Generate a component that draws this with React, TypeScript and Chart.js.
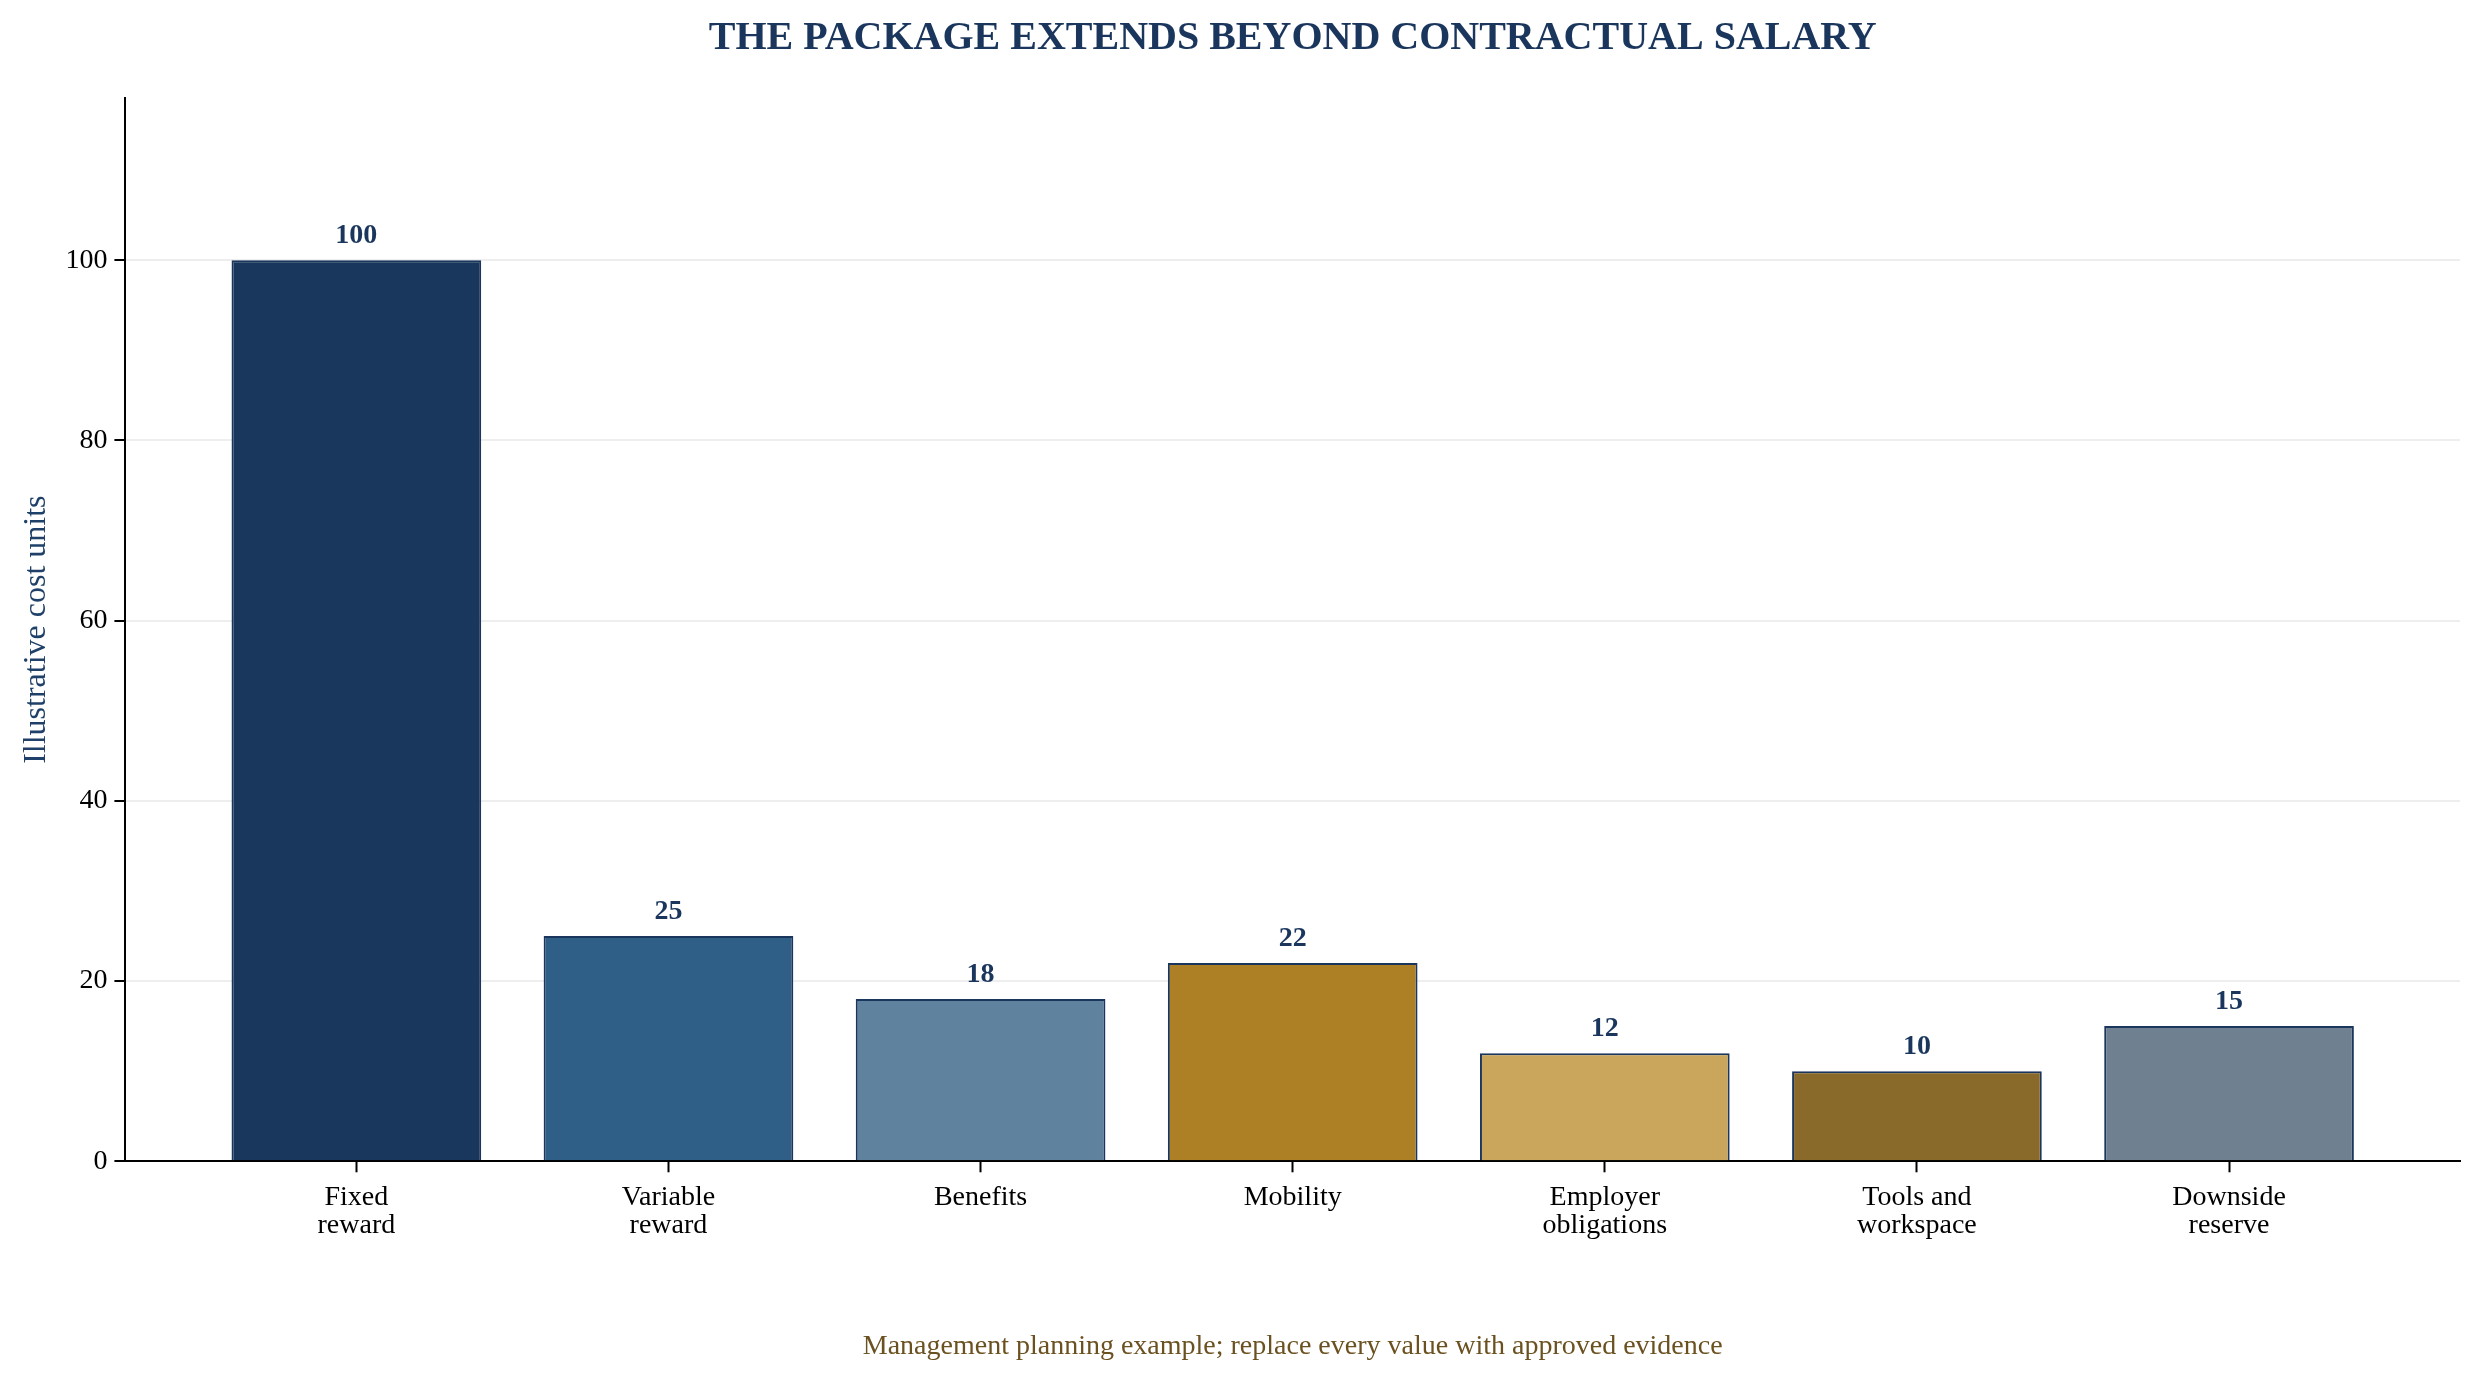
import React, { useRef, useEffect } from 'react';
import { Chart, registerables } from 'chart.js';

Chart.register(...registerables);

// Data
const categories = [
  'Fixed\nreward',
  'Variable\nreward',
  'Benefits',
  'Mobility',
  'Employer\nobligations',
  'Tools and\nworkspace',
  'Downside\nreserve',
];
const costUnits = [100, 25, 18, 22, 12, 10, 15];
const yTicks = [0, 20, 40, 60, 80, 100];

const barColors = ['#19365c', '#2f5f87', '#5f829e', '#ae8026', '#caa65c', '#8a6a2b', '#6f8090'];
const navy = '#1b365d';
const serif = '"Liberation Serif", "Times New Roman", serif';

const valueLabels = {
  id: 'valueLabels',
  afterDatasetsDraw(chart: Chart) {
    const { ctx } = chart;
    const meta = chart.getDatasetMeta(0);
    ctx.save();
    ctx.font = `bold 28px ${serif}`;
    ctx.fillStyle = navy;
    ctx.textAlign = 'center';
    ctx.textBaseline = 'alphabetic';
    meta.data.forEach((bar: any, i: number) => {
      ctx.fillText(String(costUnits[i]), bar.x, bar.y - 17);
    });
    ctx.restore();
  },
};

const App: React.FC = () => {
  const canvasRef = useRef<HTMLCanvasElement>(null);
  const chartRef = useRef<Chart | null>(null);

  useEffect(() => {
    if (!canvasRef.current) return;
    if (chartRef.current) chartRef.current.destroy();

    Chart.defaults.font.family = serif;
    Chart.defaults.color = '#000';

    chartRef.current = new Chart(canvasRef.current, {
      type: 'bar',
      data: {
        datasets: [
          {
            data: costUnits.map((v, i) => ({ x: i, y: v })),
            backgroundColor: barColors,
            borderColor: navy,
            borderWidth: 2,
            barPercentage: 0.8,
            categoryPercentage: 1,
          },
        ],
      },
      options: {
        responsive: true,
        maintainAspectRatio: false,
        animation: false,
        devicePixelRatio: 1,
        layout: { padding: { left: 13, right: 21, top: 0, bottom: 0 } },
        plugins: {
          legend: { display: false },
          tooltip: { enabled: false },
          title: {
            display: true,
            text: 'THE PACKAGE EXTENDS BEYOND CONTRACTUAL SALARY',
            color: navy,
            fullSize: false,
            font: { size: 40, weight: 'bold', family: serif },
            padding: { top: 15, bottom: 35 },
          },
          subtitle: {
            display: true,
            position: 'bottom',
            text: 'Management planning example; replace every value with approved evidence',
            color: '#6b5120',
            fullSize: false,
            font: { size: 28, family: serif },
            padding: { top: 78, bottom: 19 },
          },
        },
        scales: {
          x: {
            type: 'linear',
            min: -0.74,
            max: 6.74,
            offset: false,
            z: 1,
            afterBuildTicks: (axis: any) => {
              axis.ticks = categories.map((_, i) => ({ value: i }));
            },
            ticks: {
              padding: 11,
              font: { size: 28, family: serif, lineHeight: 1.02 },
              color: '#000',
              autoSkip: false,
              maxRotation: 0,
              callback: (value: any) => categories[value as number]?.split('\n'),
            },
            grid: {
              offset: false,
              drawOnChartArea: false,
              drawTicks: true,
              tickLength: 11,
              tickWidth: 2,
              tickColor: '#000',
            },
            border: { color: '#000', width: 2 },
          },
          y: {
            min: 0,
            max: 118,
            z: 1,
            afterBuildTicks: (axis: any) => {
              axis.ticks = yTicks.map((v) => ({ value: v }));
            },
            ticks: {
              padding: 7,
              font: { size: 28, family: serif },
              color: '#000',
            },
            grid: {
              color: 'rgba(200,200,200,0.3)',
              lineWidth: 2,
              tickLength: 11,
              tickWidth: 2,
              tickColor: '#000',
            },
            border: { color: '#000', width: 2 },
            title: {
              display: true,
              text: 'Illustrative cost units',
              color: '#1f4068',
              font: { size: 32, family: serif },
              padding: { top: 4, bottom: 3 },
            },
          },
        },
      },
      plugins: [valueLabels],
    });

    return () => {
      if (chartRef.current) {
        chartRef.current.destroy();
        chartRef.current = null;
      }
    };
  }, []);

  return (
    <div style={{ position: 'absolute', left: 0, top: 0, width: 2481, height: 1382, background: '#fff' }}>
      <canvas ref={canvasRef}></canvas>
    </div>
  );
};

export default App;
